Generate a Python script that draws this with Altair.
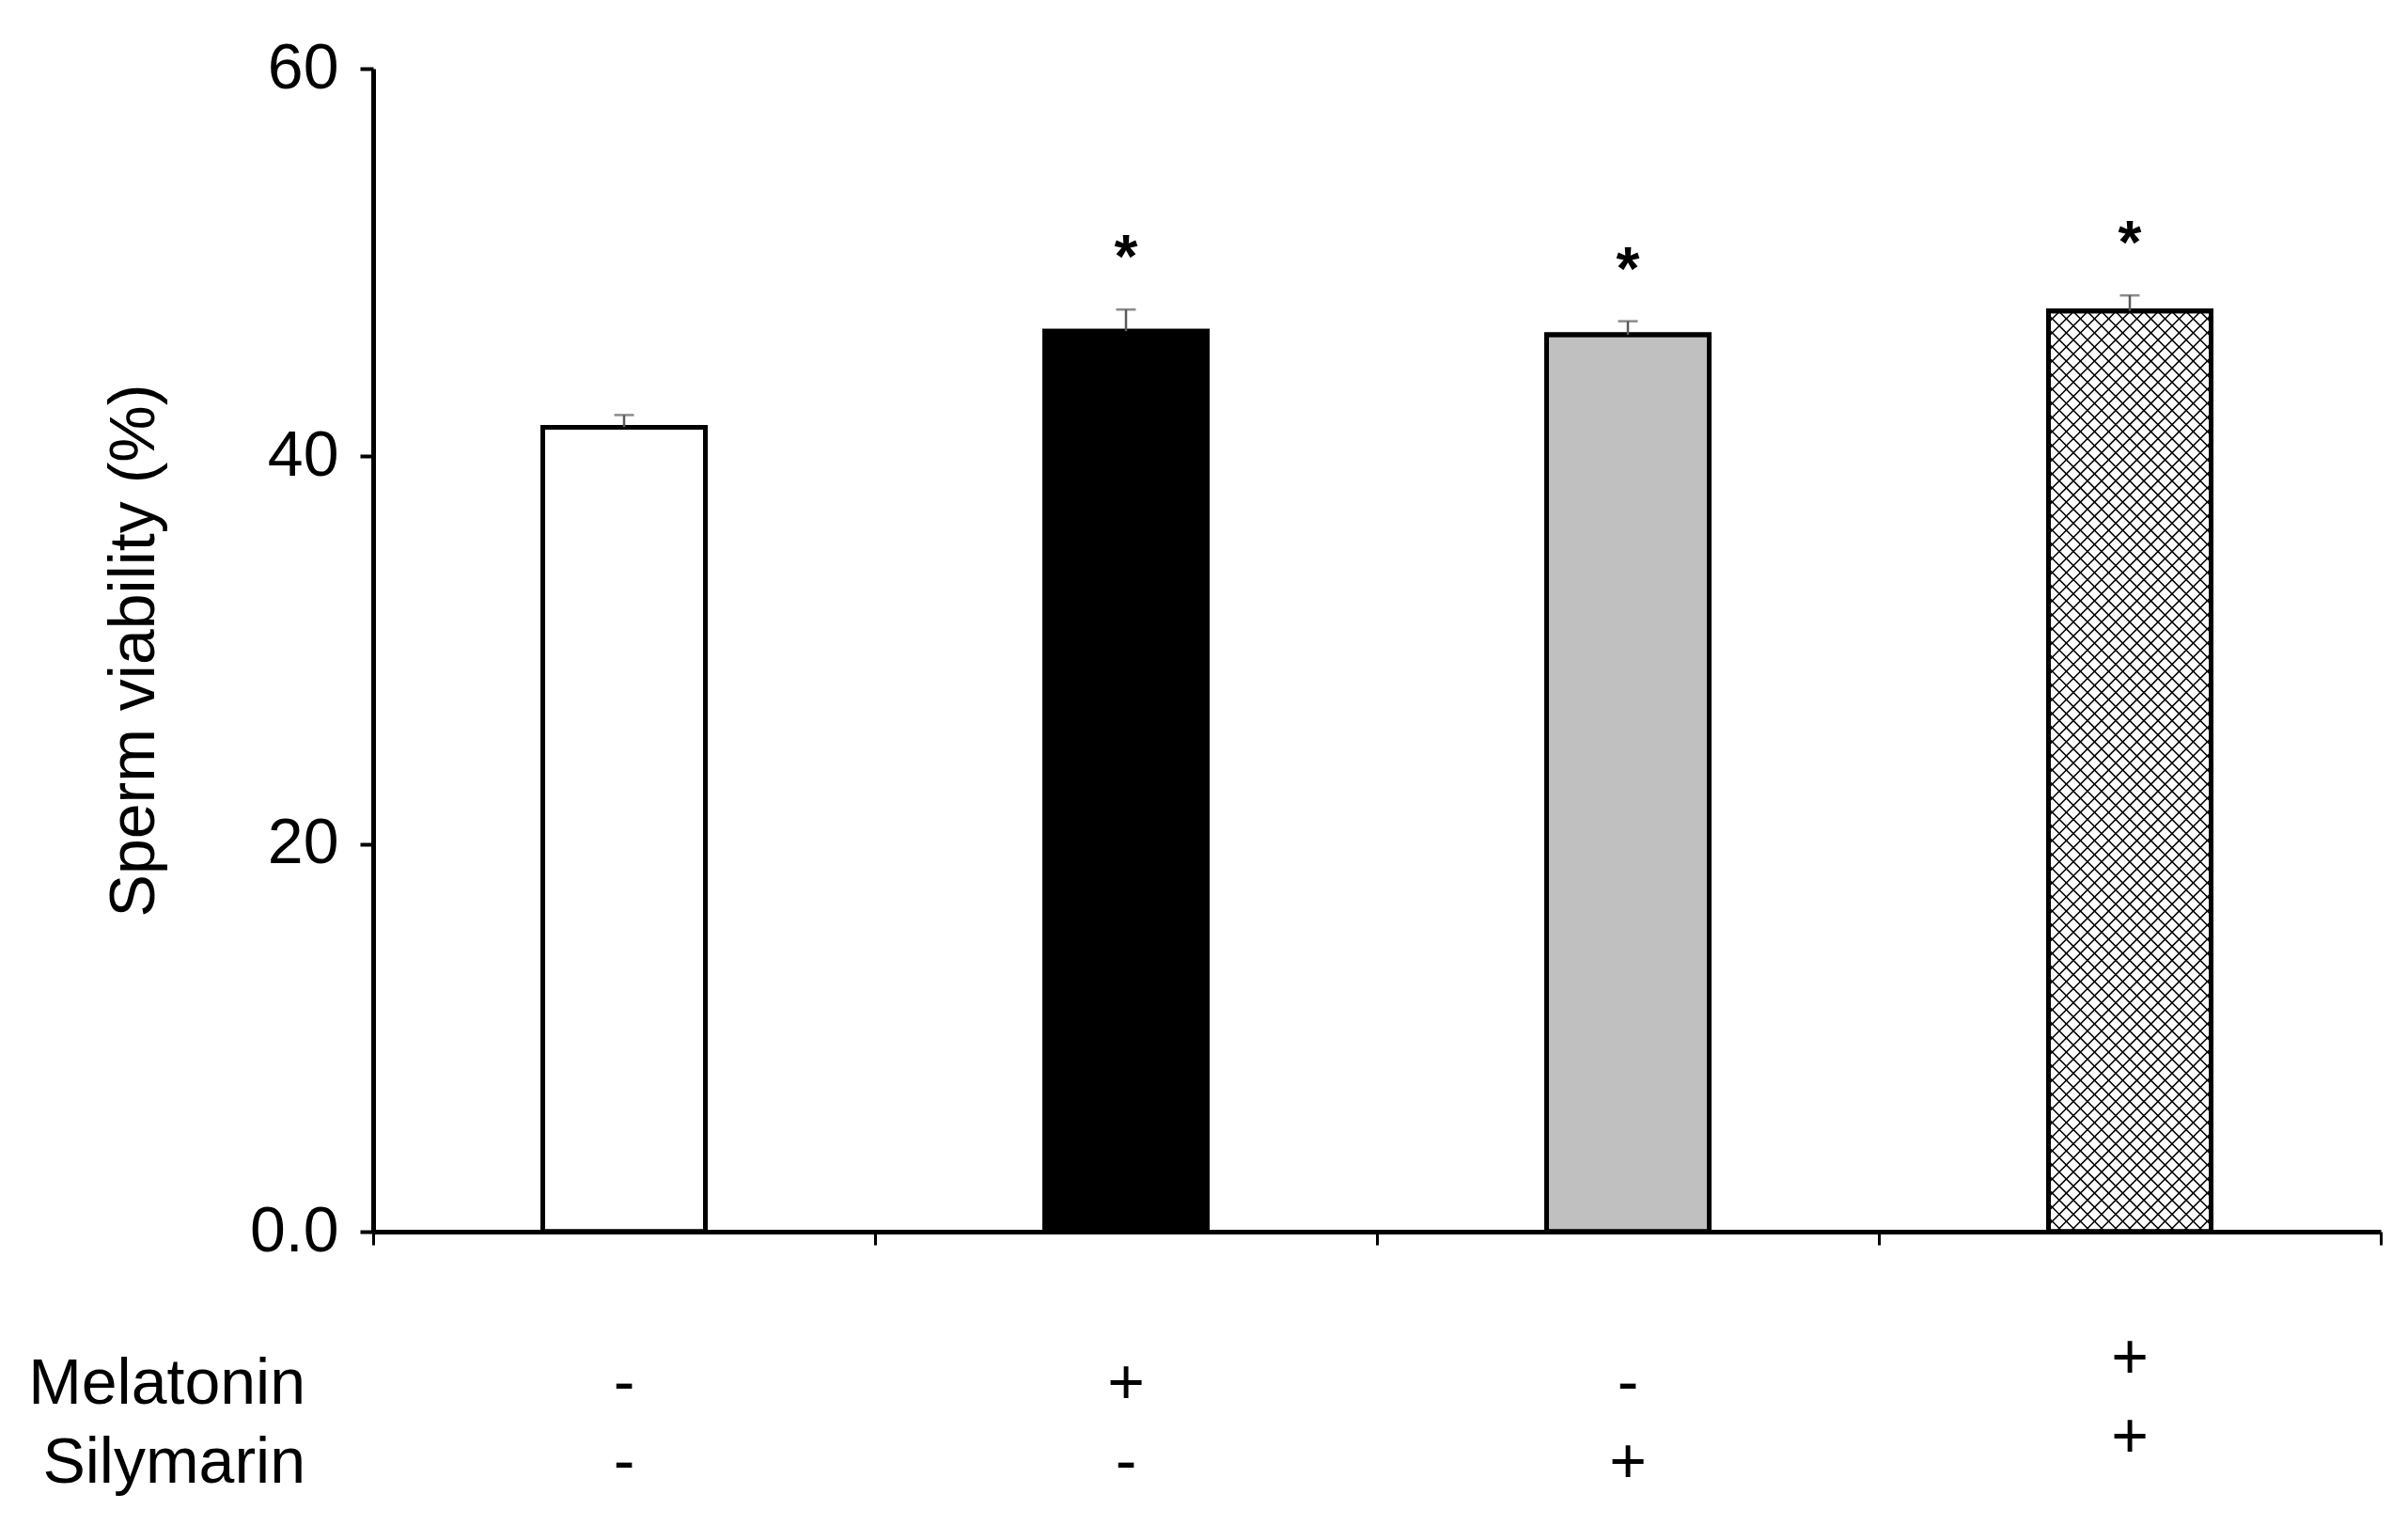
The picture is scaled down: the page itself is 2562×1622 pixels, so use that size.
import altair as alt
import numpy as np
import pandas as pd

# ---- data ----
groups = ["Control", "Melatonin", "Silymarin", "Melatonin + Silymarin"]
viability = [41.5, 46.45, 46.27, 47.5]
sem = [0.63, 1.12, 0.70, 0.80]
significance = ["", "*", "*", "*"]
melatonin_signs = ["-", "+", "-", "+"]
silymarin_signs = ["-", "-", "+", "+"]
row_labels = ["Melatonin", "Silymarin"]
y_ticks = [0, 20, 40, 60]
y_tick_labels = ["0.0", "20", "40", "60"]

# ---- styling ----
bar_fills = ["#ffffff", "#000000", "#c0c0c0", "#ffffff"]
hatched = [False, False, False, True]
FONT = "Liberation Sans"
FS = 68
W, H = 2136, 1237
HALF = 0.162           # half bar width, in band units
PX_X = W / 4.0
PX_Y = H / 60.0
HATCH = 15.0           # hatch spacing in px
ROW_Y = [1420, 1504]   # baselines of the treatment rows (px from plot top)
LIFT = 27              # last column signs sit a little higher

pos = [i + 0.5 for i in range(len(groups))]
df = pd.DataFrame({
    "group": groups,
    "pos": pos,
    "x0": [p - HALF for p in pos],
    "x1": [p + HALF for p in pos],
    "value": viability,
    "err_top": [v + s for v, s in zip(viability, sem)],
    "fill": bar_fills,
    "star": significance,
})

# crosshatch lines for hatched bars (clipped to bar rectangle)
hrows = []
for i, (h, v) in enumerate(zip(hatched, viability)):
    if not h:
        continue
    x0 = pos[i] - HALF
    wpx = 2 * HALF * PX_X
    hpx = v * PX_Y
    for c in np.arange(-wpx, hpx, HATCH):
        u0, u1 = max(0.0, -c), min(wpx, hpx - c)
        if u1 > u0:
            hrows.append({"hx": x0 + u0 / PX_X, "hy": (u0 + c) / PX_Y,
                          "hx2": x0 + u1 / PX_X, "hy2": (u1 + c) / PX_Y})
    for c in np.arange(0.0, wpx + hpx, HATCH):
        u0, u1 = max(0.0, c - hpx), min(wpx, c)
        if u1 > u0:
            hrows.append({"hx": x0 + u0 / PX_X, "hy": (c - u0) / PX_Y,
                          "hx2": x0 + u1 / PX_X, "hy2": (c - u1) / PX_Y})
hdf = pd.DataFrame(hrows)

label_expr = " : ".join(
    f"datum.value == {v} ? '{l}'" for v, l in zip(y_ticks, y_tick_labels)
) + " : datum.label"

x_scale = alt.Scale(domain=[0, 4], nice=False, zero=False)
y_scale = alt.Scale(domain=[0, 60], nice=False)
x_axis = alt.Axis(values=[0, 1, 2, 3, 4], labels=False, title=None, grid=False,
                  tickSize=14, tickWidth=3, tickColor="black",
                  domainWidth=5, domainColor="black", zindex=1)
y_axis = alt.Axis(values=y_ticks, labelExpr=label_expr, title="Sperm viability (%)",
                  grid=False, tickSize=14, tickWidth=4, tickColor="black",
                  domainWidth=5, domainColor="black", zindex=1,
                  labelFont=FONT, labelFontSize=FS, labelColor="black",
                  labelPadding=23, labelBaseline="middle",
                  titleFont=FONT, titleFontSize=FS, titleFontWeight="normal",
                  titleColor="black", titleAngle=270, titleX=-234, titleY=H / 2,
                  titleAlign="center", titleBaseline="alphabetic")

X = lambda f: alt.X(f, scale=x_scale, axis=x_axis)
Y = lambda f: alt.Y(f, scale=y_scale, axis=y_axis, stack=None)

base = alt.Chart(df)

bars = base.mark_bar(stroke="black", strokeWidth=5).encode(
    x=X("x0:Q"), x2="x1:Q", y=Y("value:Q"), y2=alt.datum(0),
    fill=alt.Fill("fill:N", scale=None),
)

hatch = alt.Chart(hdf).mark_rule(color="black", strokeWidth=1.6).encode(
    x=X("hx:Q"), x2="hx2:Q", y=Y("hy:Q"), y2="hy2:Q",
)

outline = base.mark_bar(fillOpacity=0, stroke="black", strokeWidth=5).encode(
    x=X("x0:Q"), x2="x1:Q", y=Y("value:Q"), y2=alt.datum(0),
)

err = base.mark_rule(color="#5a5a5a", strokeWidth=2.5).encode(
    x=X("pos:Q"), y=Y("value:Q"), y2="err_top:Q",
)
cap = base.mark_tick(color="#5a5a5a", orient="horizontal", size=21, thickness=2.5).encode(
    x=X("pos:Q"), y=Y("err_top:Q"),
)

stars = base.transform_filter("datum.star != ''").mark_text(
    font=FONT, fontSize=64, fontWeight="bold", baseline="alphabetic", dy=-34, color="black"
).encode(x=X("pos:Q"), y=Y("err_top:Q"), text="star:N")

layers = [bars, hatch, outline, err, cap, stars]

for r, (label, signs) in enumerate(zip(row_labels, [melatonin_signs, silymarin_signs])):
    sdf = pd.DataFrame({"pos": pos, "sign": signs,
                        "lifted": [i == len(pos) - 1 for i in range(len(pos))]})
    for lifted in (False, True):
        sub = sdf[sdf["lifted"] == lifted]
        layers.append(
            alt.Chart(sub).mark_text(font=FONT, fontSize=FS, baseline="alphabetic",
                                     align="center", color="black").encode(
                x=X("pos:Q"), y=alt.value(ROW_Y[r] - (LIFT if lifted else 0)),
                text="sign:N")
        )
    layers.append(
        alt.Chart(pd.DataFrame({"label": [label]})).mark_text(
            font=FONT, fontSize=FS, baseline="alphabetic", align="right", color="black"
        ).encode(x=alt.value(-72), y=alt.value(ROW_Y[r]), text="label:N")
    )

chart = alt.layer(*layers).properties(
    width=W, height=H,
    autosize=alt.AutoSizeParams(type="none"),
    padding={"left": 389, "top": 65, "right": 15, "bottom": 290},
    background="white",
).configure_view(stroke=None)

chart.save("out.html", embed_options={"renderer": "svg", "actions": False})
